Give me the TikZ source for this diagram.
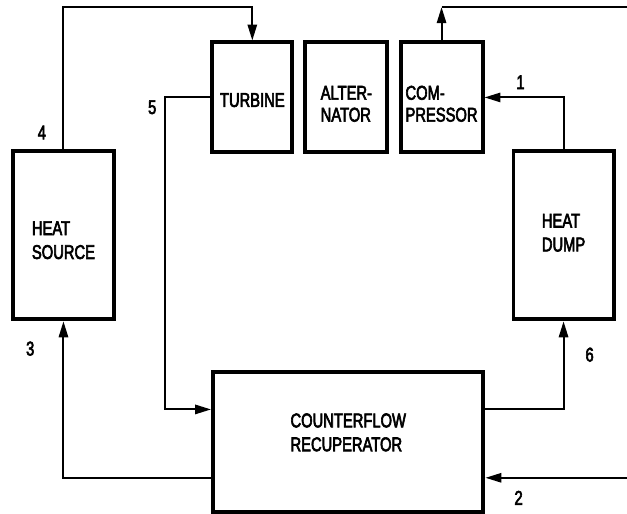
\documentclass[tikz,border=0pt]{standalone}
\usepackage{fontspec}
\setsansfont{Liberation Sans}[FakeStretch=0.74,FakeBold=3]
\usepackage{tikz}
\usetikzlibrary{arrows.meta,positioning,calc}

% text block inside a box, moved up (or down) by #1
\newcommand{\blk}[2]{\raisebox{#1}[0pt][0pt]{\begin{tabular}{@{}l@{}}#2\end{tabular}}}

\begin{document}
\begin{tikzpicture}[
  box/.style={draw, line width=3pt, inner sep=0pt, align=left,
              font=\sffamily\fontsize{15}{18}\selectfont},
  small/.style={font=\sffamily\fontsize{15}{16.5}\selectfont},
  arr/.style={-{Triangle[length=12pt, width=7pt]}, line width=1.5pt},
  lne/.style={line width=1.5pt},
  lbl/.style={font=\sffamily\fontsize{15}{16}\selectfont}
]
  \useasboundingbox (0,0) rectangle (16.6,13.6);

  \node[box, minimum width=2.68cm, minimum height=4.45cm] (source) at ( 1.68, 7.37) {\blk{-0.31cm}{HEAT\\SOURCE}};
  \node[box, minimum width=2.12cm, minimum height=2.91cm] (turbine) at ( 6.68, 11.02) {\blk{-0.25cm}{TURBINE}};
  \node[box, small, minimum width=2.17cm, minimum height=2.91cm] (altern) at ( 9.17, 11.02) {\blk{-0.36cm}{ALTER-\\NATOR}};
  \node[box, small, minimum width=2.17cm, minimum height=2.91cm] (comp)   at (11.69, 11.02) {\blk{-0.36cm}{COM-\\PRESSOR}};
  \node[box, minimum width=2.65cm, minimum height=4.45cm] (dump)   at (14.92, 7.37) {\blk{-0.11cm}{HEAT\\DUMP}};
  \node[box, minimum width=7.16cm, minimum height=3.69cm] (recup)  at ( 9.22, 1.90)
    {\blk{0.07cm}{COUNTERFLOW\\RECUPERATOR}};

  \coordinate (topline) at (0, 13.41);
  \coordinate (outR) at (16.6, 13.41);
  \coordinate (inR)  at (16.6, 0.95);

  \draw[arr] (source.north) -- (source.north |- topline) -| (turbine.north);
  \draw[arr] (turbine.west) -- ++(-1.2,0) |- ([yshift=0.86cm]recup.west);
  \draw[arr] ([yshift=-0.95cm]recup.west) -| (source.south);
  \draw[arr] ([yshift=0.88cm]recup.east) -| (dump.south);
  \draw[arr] (dump.north) |- (comp.east);
  \draw[arr] (comp.north) -- (comp.north |- topline);
  \draw[lne] (comp.north |- topline) -- (outR);
  \draw[arr] (inR) -- (inR -| recup.east);

  \node[lbl] (n4) at ( 1.11, 10.09) {4};
  \node[lbl] (n5) at ( 4.03, 10.76) {5};
  \node[lbl] (n3) at ( 0.80,  4.37) {3};
  \node[lbl] (n6) at (15.61,  4.21) {6};
  \node[lbl] (n1) at (13.78, 11.42) {1};
  \node[lbl] (n2) at (13.73,  0.42) {2};
\end{tikzpicture}
\end{document}
